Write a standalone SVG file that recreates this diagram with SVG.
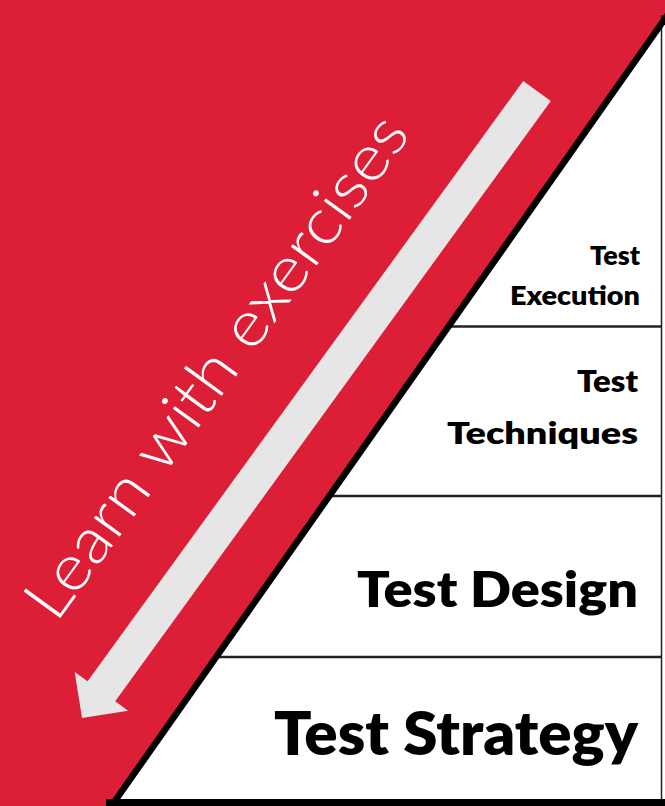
<svg xmlns="http://www.w3.org/2000/svg" width="665" height="806" viewBox="0 0 665 806">
<style>
.lbl{font-family:"Lato","Liberation Sans",sans-serif;font-weight:800;fill:#000;text-anchor:end}
.div{stroke:#222;stroke-width:2.5;fill:none}
</style>
<rect id="background" x="0" y="0" width="665" height="806" fill="#DC1F36"/>
<g id="pyramid">
  <polygon points="678,0 700,0 700,806 111.3,806" fill="#fff"/>
  <line x1="661.5" y1="15" x2="661.5" y2="800" stroke="#222" stroke-width="1.5"/>
  <line class="div" x1="450" y1="326.5" x2="662" y2="326.5"/>
  <line class="div" x1="331" y1="496" x2="662" y2="496"/>
  <line class="div" x1="218" y1="657" x2="662" y2="657"/>
  <line x1="680" y1="-2.8" x2="110" y2="808" stroke="#000" stroke-width="6.5"/>
  <rect x="106" y="799" width="560" height="7" fill="#000"/>
</g>
<g id="tier-execution">
  <text class="lbl" x="640" y="265" font-size="27" textLength="50" lengthAdjust="spacingAndGlyphs">Test</text>
  <text class="lbl" x="640" y="305" font-size="27" textLength="130" lengthAdjust="spacingAndGlyphs">Execution</text>
</g>
<g id="tier-techniques">
  <text class="lbl" x="638" y="392" font-size="30" textLength="61" lengthAdjust="spacingAndGlyphs">Test</text>
  <text class="lbl" x="638" y="444" font-size="30" textLength="191" lengthAdjust="spacingAndGlyphs">Techniques</text>
</g>
<g id="tier-design">
  <text class="lbl" x="638" y="607" font-size="50" textLength="281" lengthAdjust="spacingAndGlyphs">Test Design</text>
</g>
<g id="tier-strategy">
  <text class="lbl" x="638" y="755" font-size="60" textLength="364" lengthAdjust="spacingAndGlyphs">Test Strategy</text>
</g>
<g id="arrow">
  <polygon points="523.2,81 550.8,101 115.2,701.3 128.1,710.7 82,718 74.7,671.9 87.6,681.3" fill="#E6E6E6"/>
</g>
<g id="label-learn">
  <text transform="translate(56,624) rotate(-54)" font-family="Lato, 'Liberation Sans', sans-serif" font-weight="300" font-size="64" fill="#fff" textLength="605" lengthAdjust="spacingAndGlyphs">Learn with exercises</text>
</g>
</svg>
